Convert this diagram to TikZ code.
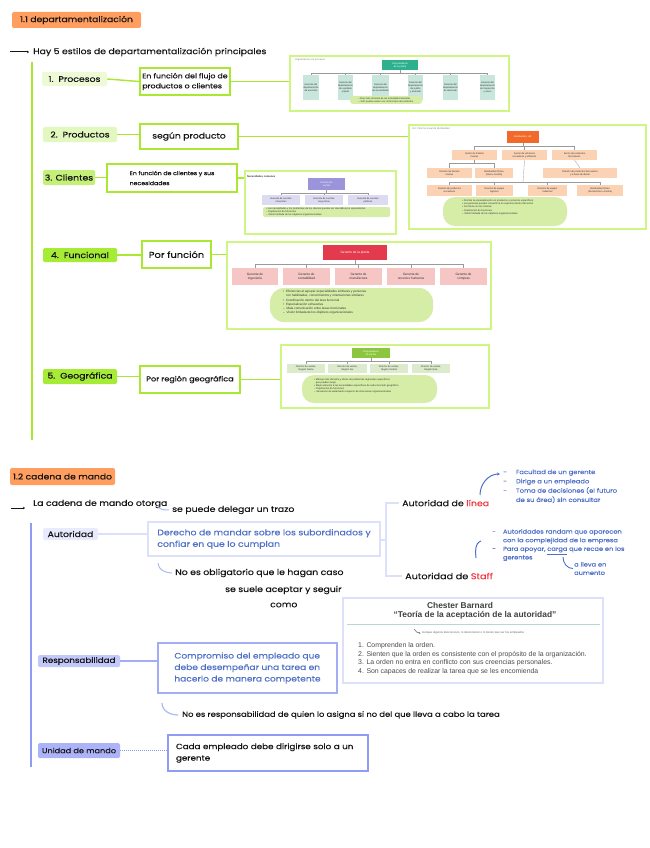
\documentclass[tikz,border=0pt]{standalone}
\usepackage{fontspec}
\setmainfont{Poppins}[FakeStretch=1.15,FakeBold=0.35]
\newfontfamily\chf{Liberation Sans}
\usetikzlibrary{arrows.meta,calc}
\definecolor{hdrorange}{HTML}{FF9E5E}
\definecolor{lime}{HTML}{A8E830}
\definecolor{frame}{HTML}{CFF582}
\definecolor{gla}{HTML}{EEFAD6}
\definecolor{glb}{HTML}{E3F8BE}
\definecolor{glc}{HTML}{C4EF78}
\definecolor{gld}{HTML}{A6EC36}
\definecolor{bline}{HTML}{8F9CF3}
\definecolor{bla}{HTML}{E8EAFE}
\definecolor{blb}{HTML}{C3C8FA}
\definecolor{blc}{HTML}{ADB3F8}
\definecolor{btext}{HTML}{4F70C6}
\definecolor{bborder}{HTML}{A3ACF6}
\definecolor{bpale}{HTML}{DCE0FB}
\definecolor{bhook}{HTML}{A9BCF0}
\definecolor{redw}{HTML}{F0353F}
\definecolor{tealc}{HTML}{2DB08E}
\definecolor{teall}{HTML}{C9E6DD}
\definecolor{blob}{HTML}{D6EDA8}
\definecolor{orgo}{HTML}{F26A2A}
\definecolor{peach}{HTML}{FBD2B4}
\definecolor{purp}{HTML}{9C94DA}
\definecolor{purpl}{HTML}{DDDBF1}
\definecolor{redc}{HTML}{E43A4E}
\definecolor{pinkc}{HTML}{F5C6C3}
\definecolor{grnc}{HTML}{8CC63F}
\definecolor{grnl}{HTML}{DCEBCB}
\definecolor{ink}{HTML}{141414}
\definecolor{chline}{HTML}{9A9A9A}
\definecolor{cbline}{HTML}{B9D6D6}

\newcommand\rbox[7]{\node[#6, minimum width={#4-#2}, minimum height={#5-#3}] (#1) at ({(#2+#4)/2},{(#3+#5)/2}) {#7};}

\begin{document}
\begin{tikzpicture}[x=1pt,y=-1pt,
  hw/.style={font=\fontsize{8.1}{9}\selectfont, text=ink, inner sep=0pt, anchor=west},
  hdr/.style={fill=hdrorange, rounded corners=2pt, font=\fontsize{8}{9}\selectfont, text=ink, inner sep=0pt},
  glab/.style={rounded corners=1.5pt, font=\fontsize{8.1}{9}\selectfont, text=ink, inner sep=0pt},
  gbox/.style={draw=lime, line width=1.6pt, fill=white, font=\fontsize{6.8}{10}\selectfont, text=ink, inner sep=1pt, align=left},
  img/.style={draw=frame, line width=1.6pt, fill=white, inner sep=0pt},
  gline/.style={draw=lime, line width=1.4pt},
  cb/.style={font=\chf\fontsize{2.4}{2.9}\selectfont, align=center, inner sep=0.3pt, text=black!80},
  ct/.style={font=\chf\fontsize{2.5}{3.2}\selectfont, align=left, inner sep=0pt, text=black!80, anchor=north west},
  cl/.style={draw=chline, line width=0.3pt},
  blab/.style={rounded corners=1.5pt, font=\fontsize{7.6}{9}\selectfont, text=ink, inner sep=0pt},
  bt/.style={font=\fontsize{6}{8.6}\selectfont, text=btext, inner sep=0pt, align=left},
  lst/.style={font=\chf\fontsize{6.9}{8}\selectfont, text=black!70, inner sep=0pt, anchor=west}
]
\useasboundingbox (0,0) rectangle (649,848);

% ================= Section 1.1 =================
\rbox{h1}{12}{12}{141}{28}{hdr}{1.1 departamentalización}
\coordinate (a1s) at (10,52);
\node[hw] (t1) at (33,52) {Hay 5 estilos de departamentalización principales};
\draw[ink, line width=1pt, -{Stealth[length=2pt,width=2.5pt]}] (a1s) -- ([xshift=-4pt]t1.west);
\coordinate (v1t) at (32,62);
\coordinate (v1b) at (32,440);
\draw[gline] (v1t) -- (v1b);

% ---- image A : procesos
\rbox{imgA}{290}{56}{509}{111}{img}{}
\node[ct, text=black!50] (tA) at (295,58.5) {Organización por procesos};
\rbox{A0}{382}{60}{418}{70}{cb, fill=tealc, text=white}{Vicepresidente\\de la planta}
\foreach \i/\cx/\t in {1/311/{Gerente del\\departamento\\de aserrado},2/345.5/{Gerente del\\departamento\\de cepillado\\y lijado},3/380.5/{Gerente del\\departamento\\de ensamblado},4/415.5/{Gerente del\\departamento\\de pulido\\y acabado},5/450.5/{Gerente del\\departamento\\de laminado},6/487.5/{Gerente del\\departamento\\de inspección\\y envío}}{
  \rbox{A\i}{\cx-13}{75}{\cx+13}{100}{cb, fill=teall}{\t}
  \draw[cl] (A0.south) -- ++(0,3) -| (A\i.north);
}
\rbox{Ab}{350}{96}{422}{104}{cb, fill=blob, rounded corners=3pt, align=left}{• Flujo más eficiente de las actividades laborales\\– Sólo puede usarse con ciertos tipos de productos}

% ---- image B : productos
\rbox{imgB}{409}{125}{646}{229}{img}{}
\node[ct, text=black!50] (tB) at (412,127.5) {Ver: Informe anual de Bombardier};
\rbox{B0}{507}{131}{539}{143}{cb, fill=orgo, text=white}{Bombardier, Ltd.}
\rbox{B1}{452}{150}{497}{160}{cb, fill=peach}{Sector de tránsito\\masivo}
\rbox{B2}{502}{150}{547}{160}{cb, fill=peach}{Sector de vehículos\\recreativos y utilitarios}
\rbox{B3}{552}{150}{597}{160}{cb, fill=peach}{Sector de productos\\ferroviarios}
\foreach \i in {1,2,3}{\draw[cl] (B0.south) -- ++(0,3) -| (B\i.north);}
\rbox{B4}{427}{168}{472}{178}{cb, fill=peach}{División de tránsito\\masivo}
\rbox{B5}{475}{168}{513}{178}{cb, fill=peach}{Bombardier-Rotax\\(Viena, Austria)}
\rbox{B6}{543}{168}{617}{178}{cb, fill=peach}{División de productos ferroviarios\\y a base de diésel}
\draw[cl] (B1.south) -- ++(0,3) -| (B4.north);
\draw[cl] (B1.south) -- ++(0,3) -| (B5.north);
\draw[cl] (B3.south) -- (B6.north);
\rbox{B7}{427}{185}{472}{196}{cb, fill=peach}{División de productos\\recreativos}
\rbox{B8}{476}{185}{513}{196}{cb, fill=peach}{División de equipo\\logístico}
\rbox{B9}{528}{185}{567}{196}{cb, fill=peach}{División de equipo\\industrial}
\rbox{B10}{577}{185}{623}{196}{cb, fill=peach}{Bombardier-Rotax\\(Gunskirchen, Austria)}
\coordinate (B2d) at (523,182);
\draw[cl] (B2.south) -- (B2d);
\foreach \i in {7,8,9,10}{\draw[cl] (B2d) -| (B\i.north);}
\rbox{Bb}{443}{197}{567}{226}{cb, fill=blob, rounded corners=12pt}{}
\node[ct] (Bt) at (462,199.5) {• Permite la especialización en productos y servicios específicos\\• Los gerentes pueden convertirse en expertos dentro del sector\\• Cercanía con los clientes\\– Duplicación de funciones\\– Visión limitada de los objetivos organizacionales};

% ---- image C : clientes
\rbox{imgC}{245}{171}{396}{234}{img}{}
\node[ct, font=\chf\bfseries\fontsize{2.6}{3}\selectfont] (tC) at (247,175) {Necesidades comunes};
\rbox{C0}{308}{178}{345}{190}{cb, fill=purp, text=white}{Director de\\ventas}
\rbox{C1}{262}{195}{300}{205}{cb, fill=purpl}{Gerente de cuentas\\minoristas}
\rbox{C2}{305}{195}{343}{205}{cb, fill=purpl}{Gerente de cuentas\\mayoristas}
\rbox{C3}{348}{195}{388}{205}{cb, fill=purpl}{Gerente de cuentas\\públicas}
\foreach \i in {1,2,3}{\draw[cl] (C0.south) -- ++(0,2.5) -| (C\i.north);}
\rbox{Cb}{263}{207}{390}{217}{cb, fill=blob, rounded corners=2pt}{}
\node[ct] (Ct) at (266,207.5) {• Las necesidades y los problemas de los clientes pueden ser atendidos por especialistas\\– Duplicación de funciones\\– Visión limitada de los objetivos organizacionales};

% ---- image D : funcional
\rbox{imgD}{227}{242}{491}{329}{img}{}
\rbox{D0}{323}{245}{387}{260}{cb, fill=redc, text=white, font=\chf\fontsize{3.2}{3.8}\selectfont}{Gerente de la planta}
\foreach \i/\a/\b/\t in {1/232/278/{Gerente de\\ingeniería},2/283/330/{Gerente de\\contabilidad},3/335/382/{Gerente de\\manufactura},4/387/435/{Gerente de\\recursos humanos},5/440/487/{Gerente de\\compras}}{
  \rbox{D\i}{\a}{268}{\b}{285}{cb, fill=pinkc, font=\chf\fontsize{3.2}{3.8}\selectfont}{\t}
  \draw[cl] (D0.south) -- ++(0,4) -| (D\i.north);
}
\rbox{Db}{270}{288}{433}{322}{cb, fill=blob, rounded corners=14pt}{}
\node[ct, font=\chf\fontsize{3.1}{4.3}\selectfont] (Dt) at (283,290) {•\ \ Eficiencias al agrupar especialidades similares y personas\\\phantom{•\ \ }con habilidades, conocimientos y orientaciones similares\\•\ \ Coordinación dentro del área funcional\\•\ \ Especialización exhaustiva\\–\ \ Mala comunicación entre áreas funcionales\\–\ \ Visión limitada de los objetivos organizacionales};

% ---- image E : geográfica
\rbox{imgE}{281}{345}{489}{408}{img}{}
\rbox{E0}{352}{348}{390}{358}{cb, fill=grnc, text=white}{Vicepresidente\\de ventas}
\foreach \i/\a/\b/\t in {1/287/325/{Director de ventas,\\Región Oeste},2/328/367/{Director de ventas,\\Región Sur},3/370/408/{Director de ventas,\\Región Central},4/412/450/{Director de ventas,\\Región Este}}{
  \rbox{E\i}{\a}{364}{\b}{373}{cb, fill=grnl}{\t}
  \draw[cl] (E0.south) -- ++(0,3) -| (E\i.north);
}
\rbox{Eb}{302}{375}{437}{403}{cb, fill=blob, rounded corners=12pt}{}
\node[ct] (Et) at (314,378) {• Manejo más eficiente y eficaz de problemas regionales específicos\\\phantom{• }que pueden surgir\\• Mejor atención a las necesidades específicas de cada mercado geográfico\\– Duplicación de funciones\\– Sensación de aislamiento respecto de otras áreas organizacionales};

% ---- rows
\rbox{p1}{42}{72}{107}{86}{glab, fill=gla}{1.\ \ Procesos}
\rbox{q1}{140}{68}{230}{95}{gbox}{En función del flujo de\\productos o clientes}
\draw[gline] (p1.east) -- (q1.west);
\draw[gline] (q1.east) -- (q1.east -| imgA.west);

\rbox{p2}{43}{127}{117}{142}{glab, fill=glb}{2.\ \ Productos}
\rbox{q2}{140}{124}{238}{149}{gbox, font=\fontsize{8}{9}\selectfont}{según producto}
\draw[gline] (p2.east) -- (p2.east -| q2.west);
\draw[gline] (q2.east) -- (q2.east -| imgB.west);

\rbox{p3}{43}{170}{95}{185}{glab, fill=glc}{3. Clientes}
\rbox{q3}{107}{164}{237}{192}{gbox, font=\fontsize{5.4}{10}\selectfont}{En función de clientes y sus\\necesidades}
\draw[gline] (p3.east) -- (p3.east -| q3.west);
\draw[gline] (q3.east) -- (q3.east -| imgC.west);

\rbox{p4}{43}{248}{117}{262}{glab, fill=gld}{4.\ \ Funcional}
\rbox{q4}{142}{241}{211}{268}{gbox, font=\fontsize{8.6}{9}\selectfont}{Por función}
\draw[gline] (p4.east) -- (p4.east -| q4.west);
\draw[gline] (q4.east) -- (q4.east -| imgD.west);

\rbox{p5}{43}{369}{117}{384}{glab, fill=gld}{5.\ \ Geográfica}
\rbox{q5}{140}{366}{240}{393}{gbox, font=\fontsize{7}{9}\selectfont}{Por región geográfica}
\draw[gline] (p5.east) -- (p5.east -| q5.west);
\draw[gline] (q5.east) -- (q5.east -| imgE.west);

% ================= Section 1.2 =================
\rbox{h2}{10}{468}{115}{485}{hdr}{1.2 cadena de mando}
\coordinate (a2s) at (11,508);
\node[hw] (t2) at (33,504) {La cadena de mando otorga};
\draw[ink, line width=1pt, -{Stealth[length=2pt,width=2.5pt]}] (a2s) -- ([xshift=-8pt]a2s -| t2.west);
\node[hw] (t3) at (172,510) {se puede delegar un trazo};
\coordinate (hk0) at (158,505);
\draw[bhook, line width=1pt] (hk0) to[out=-90,in=180] ([xshift=-3pt]t3.west);

\coordinate (v2t) at (31,523);
\coordinate (v2b) at (31,767);
\draw[bline, line width=1.5pt] (v2t) -- (v2b);

\rbox{r1}{43}{528}{98}{540}{blab, fill=bla, font=\fontsize{8}{9}\selectfont}{Autoridad}
\rbox{s1}{148}{522}{380}{556}{bt, draw=bpale, line width=1.3pt, font=\fontsize{8.1}{11.5}\selectfont}{Derecho de mandar sobre los subordinados y\\confiar en que lo cumplan}
\draw[bpale, line width=1.2pt] (r1.east) -- (r1.east -| s1.west);

\node[hw, font=\fontsize{8.2}{9}\selectfont] (lin) at (402,503) {Autoridad de \textcolor{redw}{línea}};
\node[hw, font=\fontsize{8.4}{9}\selectfont] (stf) at (405,576) {Autoridad de \textcolor{redw}{Staff}};
\coordinate (brx) at (386,540);
\draw[bpale, line width=1.3pt] (s1.east |- brx) -- (brx);
\draw[bpale, line width=1.3pt] ([xshift=-3pt]lin.west) -| (brx) |- ([xshift=-3pt]stf.west);

\node[bt, anchor=north west, font=\fontsize{5.9}{9.3}\selectfont] (lb) at (503,469.5) {-\ \ \ \ \ Facultad de un gerente\\-\ \ \ \ \ Dirige a un empleado\\-\ \ \ \ \ Toma de decisiones (el futuro\\\phantom{-\ \ \ \ \ }de su área) sin consultar};
\coordinate (lc0) at (480,495);
\draw[btext, line width=1pt, -{Stealth[length=3pt,width=3pt]}] (lc0) to[out=90,in=180] ([xshift=-3pt,yshift=-4.5pt]lb.north west);

\node[bt, anchor=north west, font=\fontsize{5.8}{8.6}\selectfont] (sb) at (492,529) {-\ \ \ \ Autoridades randam que aparecen\\\phantom{-\ \ \ \ }con la complejidad de la empresa\\-\ \ \ \ Para apoyar, \underline{carga} que recae en los\\\phantom{-\ \ \ \ }gerentes};
\coordinate (sc0) at (481,541);
\coordinate (sc1) at (476,558);
\draw[btext, line width=1pt] (sc0) to[out=200,in=95] (sc1);
\node[bt, anchor=north west, font=\fontsize{5.8}{8.4}\selectfont] (al) at (574,562) {a lleva en\\aumento};
\coordinate (ac0) at (563,557);
\draw[btext, line width=0.9pt] (ac0) to[out=-90,in=180] ([xshift=-1pt]al.west);

\node[hw] (ob) at (175,573) {No es obligatorio que le hagan caso};
\coordinate (ob0) at (158,563);
\draw[bhook, line width=1pt] (ob0) to[out=-90,in=180] ([xshift=-3pt]ob.west);
\node[hw] (ac) at (225,590) {se suele aceptar y seguir};
\node[hw] (co) at (270,605) {como};

\rbox{cbx}{343}{598}{603}{683}{draw=bpale, line width=1.2pt, fill=white}{}
\node[font=\chf\bfseries\fontsize{8.4}{9}\selectfont, text=black!75, inner sep=0pt] (cbt) at (460,605) {Chester Barnard};
\node[font=\chf\bfseries\fontsize{8.4}{9}\selectfont, text=black!75, inner sep=0pt] (cbs) at (475,615.5) {“Teoría de la aceptación de la autoridad”};
\coordinate (cl0) at (347,624);
\coordinate (cl1) at (600,624);
\draw[cbline, line width=0.7pt] (cl0) -- (cl1);
\node[font=\chf\fontsize{2.9}{3}\selectfont, text=black!60, inner sep=0pt, anchor=west] (cnote) at (422,633) {Aunque algunos desconocen, lo desconocen o lo tienen que ser los empleados};
\coordinate (cn0) at (414,629);
\draw[black!55, line width=0.6pt, -{Stealth[length=1.5pt,width=1.8pt]}] (cn0) to[out=-60,in=180] ([xshift=-1.5pt]cnote.west);
\node[lst] (l1) at (358,646) {1. Comprenden la orden.};
\node[lst] (l2) at (358,654.5) {2. Sienten que la orden es consistente con el propósito de la organización.};
\node[lst] (l3) at (358,663) {3. La orden no entra en conflicto con sus creencias personales.};
\node[lst] (l4) at (358,672) {4. Son capaces de realizar la tarea que se les encomienda};

\rbox{r2}{38}{655}{120}{667}{blab, fill=blb}{Responsabilidad}
\rbox{s2}{158}{643}{337}{693}{bt, draw=bborder, line width=1.3pt, font=\fontsize{7.9}{11.5}\selectfont}{Compromiso del empleado que\\debe desempeñar una tarea en\\hacerlo de manera competente}
\draw[bborder, line width=1.2pt] (r2.east) -- (r2.east -| s2.west);
\node[hw, font=\fontsize{7.3}{9}\selectfont] (nr) at (182,715) {No es responsabilidad de quien lo asigna si no del que lleva a cabo la tarea};
\coordinate (nr0) at (162,703);
\draw[bhook, line width=1.2pt] (nr0) to[out=-90,in=180] ([xshift=-4pt]nr.west);

\rbox{r3}{38}{743}{120}{758}{blab, fill=blc, font=\fontsize{7.1}{9}\selectfont}{Unidad de mando}
\rbox{s3}{168}{735}{368}{771}{draw=bline, line width=1.5pt, fill=white, font=\fontsize{7.6}{11.5}\selectfont, text=ink, align=left, inner sep=0pt, text width=184pt}{Cada empleado debe dirigirse solo a un\\gerente}
\draw[bline, line width=1pt, densely dotted] (r3.east) -- (r3.east -| s3.west);
\end{tikzpicture}
\end{document}
